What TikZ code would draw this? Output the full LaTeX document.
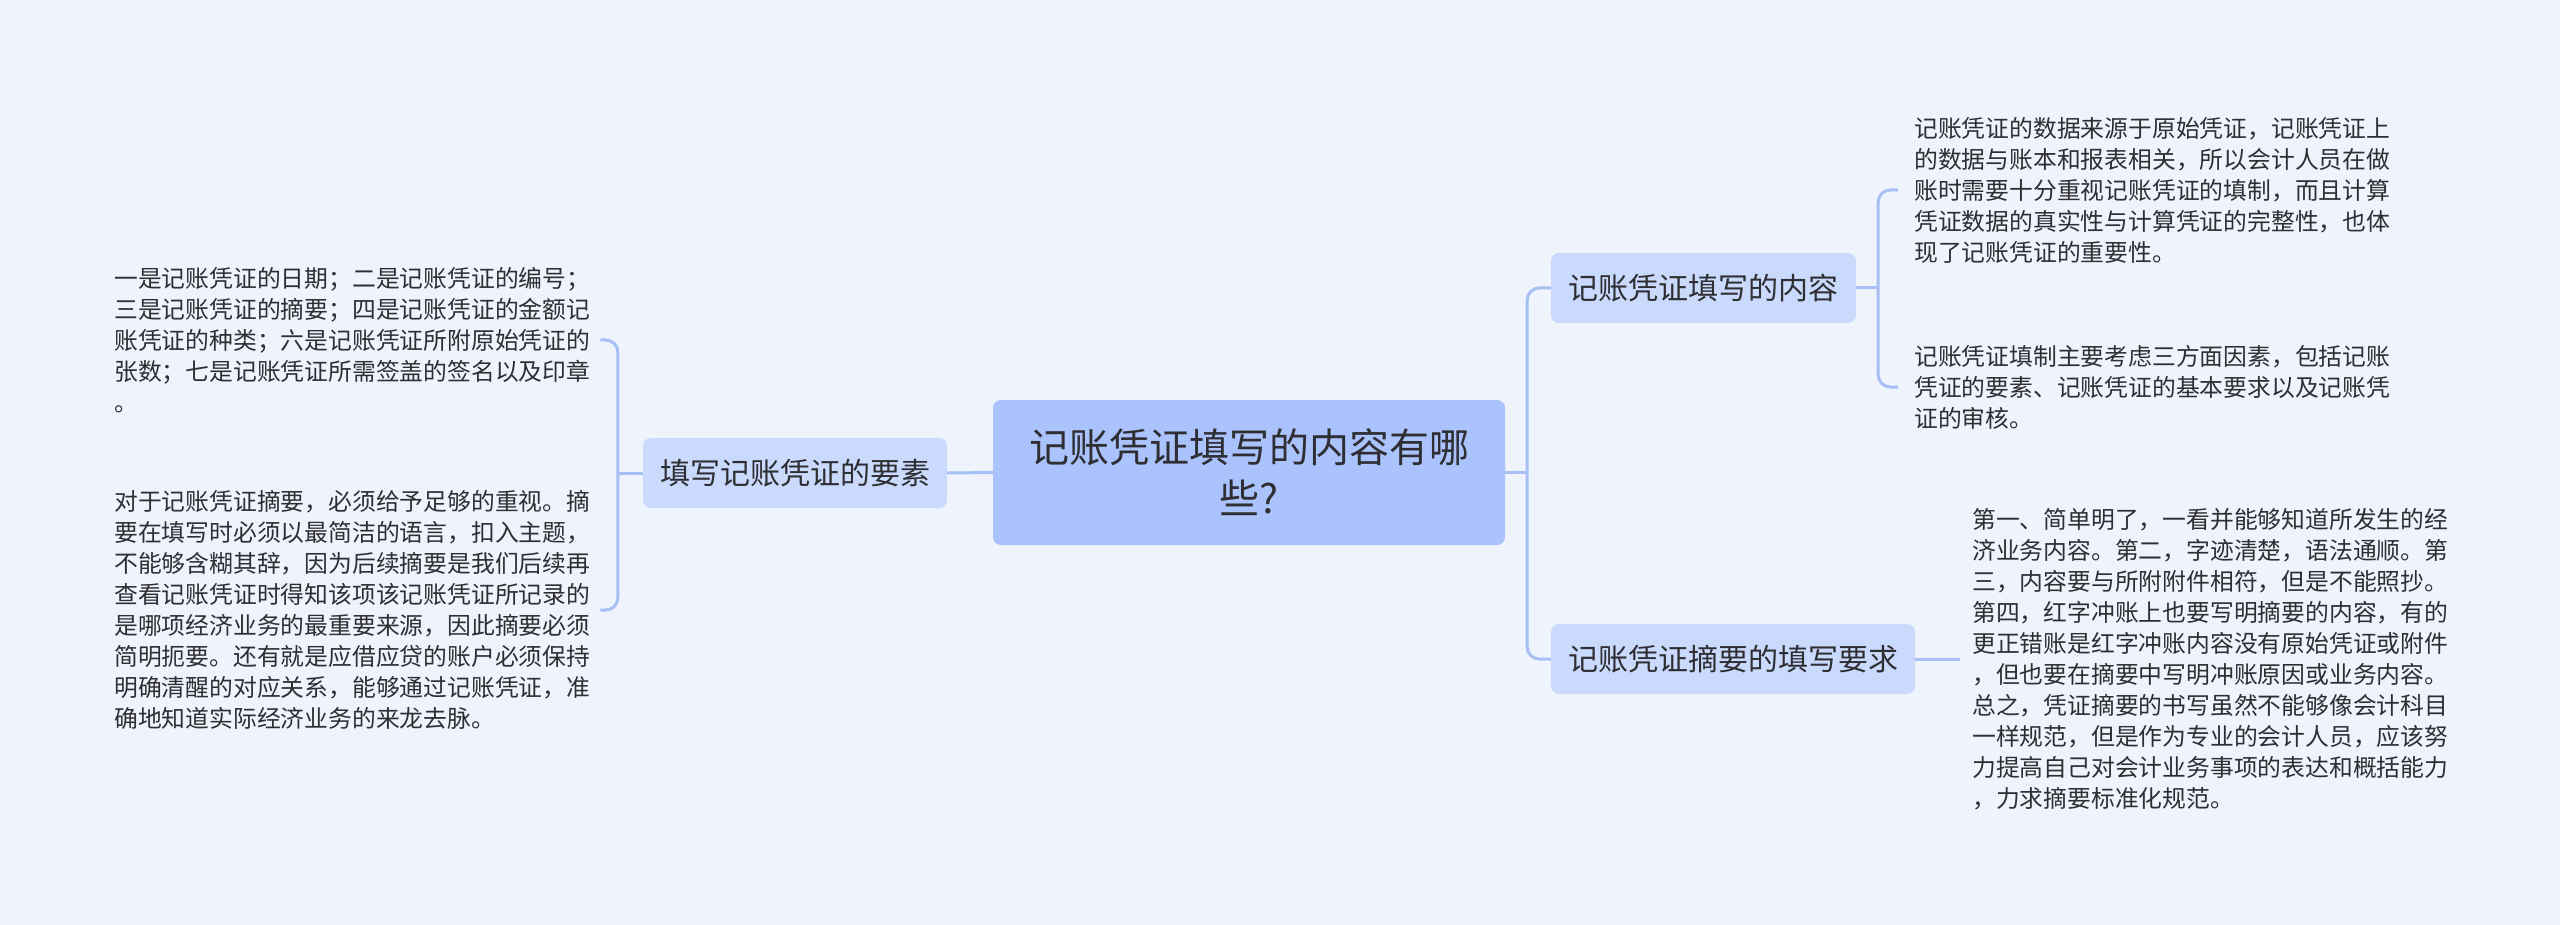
\documentclass[tikz,border=0pt]{standalone}
\usepackage{fontspec}
\setmainfont{Noto Sans CJK SC}
\definecolor{bgc}{HTML}{EEF3FC}
\definecolor{rootc}{HTML}{AAC3FD}
\definecolor{topc}{HTML}{C9DAFC}
\definecolor{linec}{HTML}{A8BFF5}
\definecolor{txt}{HTML}{2E2E33}
\begin{document}
\begin{tikzpicture}[x=1pt,y=-1pt,
  conn/.style={draw=linec, line width=3pt},
  rootbox/.style={fill=rootc, rounded corners=8pt, minimum width=512pt, minimum height=145pt, align=center, text=txt, font=\fontsize{40}{51}\selectfont},
  topicbox/.style={fill=topc, rounded corners=8pt, minimum height=70pt, inner xsep=0pt, text=txt, font=\fontsize{30}{36}\selectfont},
  leaf/.style={align=left, inner ysep=0pt, text=txt, font=\fontsize{23.8}{31}\selectfont}]
\fill[bgc] (0,0) rectangle (2560,925);
\useasboundingbox (0,0) rectangle (2560,925);

\node[rootbox] (root) at (1249,472.5) {记账凭证填写的内容有哪\\些?};
\node[topicbox, minimum width=304pt] (L) at (795,473) {填写记账凭证的要素};
\node[topicbox, minimum width=305pt] (R1) at (1703.5,288) {记账凭证填写的内容};
\node[topicbox, minimum width=364pt] (R2) at (1733,659) {记账凭证摘要的填写要求};

\node[leaf, anchor=west, inner xsep=10pt] (a1) at (104,340) {一是记账凭证的日期；二是记账凭证的编号；\\三是记账凭证的摘要；四是记账凭证的金额记\\账凭证的种类；六是记账凭证所附原始凭证的\\张数；七是记账凭证所需签盖的签名以及印章\\。};
\node[leaf, anchor=west, inner xsep=10pt] (a2) at (104,610) {对于记账凭证摘要，必须给予足够的重视。摘\\要在填写时必须以最简洁的语言，扣入主题，\\不能够含糊其辞，因为后续摘要是我们后续再\\查看记账凭证时得知该项该记账凭证所记录的\\是哪项经济业务的最重要来源，因此摘要必须\\简明扼要。还有就是应借应贷的账户必须保持\\明确清醒的对应关系，能够通过记账凭证，准\\确地知道实际经济业务的来龙去脉。};
\node[leaf, anchor=west, inner xsep=16pt] (b1) at (1898,190) {记账凭证的数据来源于原始凭证，记账凭证上\\的数据与账本和报表相关，所以会计人员在做\\账时需要十分重视记账凭证的填制，而且计算\\凭证数据的真实性与计算凭证的完整性，也体\\现了记账凭证的重要性。};
\node[leaf, anchor=west, inner xsep=16pt] (b2) at (1898,387) {记账凭证填制主要考虑三方面因素，包括记账\\凭证的要素、记账凭证的基本要求以及记账凭\\证的审核。};
\node[leaf, anchor=west, inner xsep=12pt] (c1) at (1960,659) {第一、简单明了，一看并能够知道所发生的经\\济业务内容。第二，字迹清楚，语法通顺。第\\三，内容要与所附附件相符，但是不能照抄。\\第四，红字冲账上也要写明摘要的内容，有的\\更正错账是红字冲账内容没有原始凭证或附件\\，但也要在摘要中写明冲账原因或业务内容。\\总之，凭证摘要的书写虽然不能够像会计科目\\一样规范，但是作为专业的会计人员，应该努\\力提高自己对会计业务事项的表达和概括能力\\，力求摘要标准化规范。};

\draw[conn] (root.west) -- (L.east);
\draw[conn] (root.east) -- ++(22,0) coordinate (jr);
\draw[conn, rounded corners=12pt] (jr) |- (R1.west);
\draw[conn, rounded corners=12pt] (jr) |- (R2.west);
\draw[conn] (L.west) -- ++(-25,0) coordinate (jl);
\draw[conn, rounded corners=12pt] (jl) |- (a1.east);
\draw[conn, rounded corners=12pt] (jl) |- (a2.east);
\draw[conn] (R1.east) -- ++(22,0) coordinate (jr1);
\draw[conn, rounded corners=12pt] (jr1) |- (b1.west);
\draw[conn, rounded corners=12pt] (jr1) |- (b2.west);
\draw[conn] (R2.east) -- (c1.west);
\end{tikzpicture}
\end{document}
